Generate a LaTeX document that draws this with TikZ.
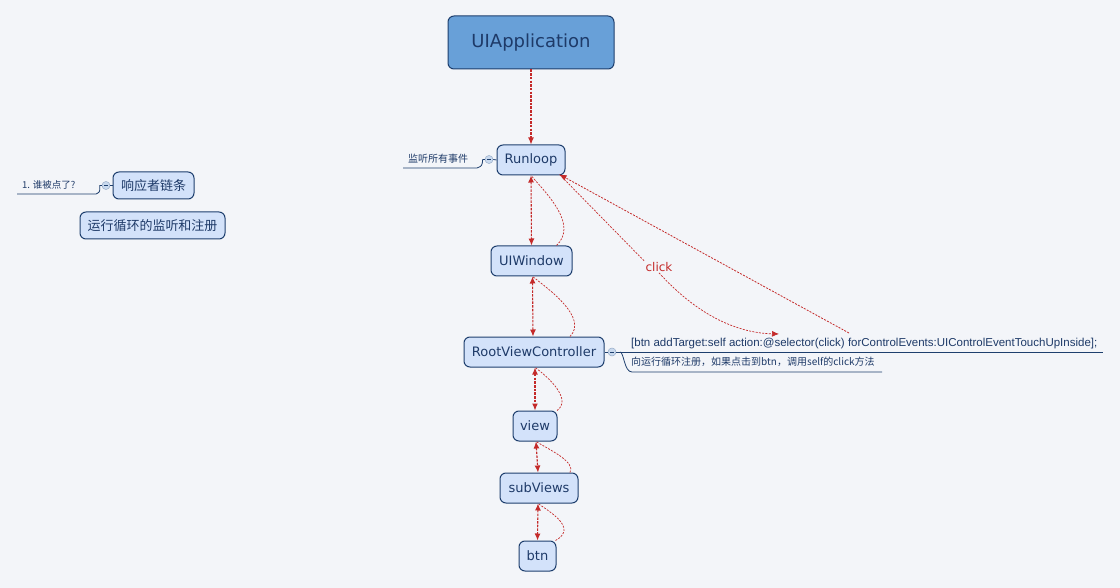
\documentclass[tikz,border=0pt]{standalone}
\usepackage{fontspec}
\setmainfont{DejaVu Sans}
\newfontfamily\cjk{Noto Sans CJK SC}
\newfontfamily\codefont{Liberation Sans}
\usetikzlibrary{arrows.meta}
\definecolor{bg}{HTML}{F3F5F9}
\definecolor{boxfill}{HTML}{D3E2FA}
\definecolor{boxline}{HTML}{1E3F6E}
\definecolor{txt}{HTML}{1E3A68}
\definecolor{appfill}{HTML}{68A0D8}
\definecolor{linkred}{HTML}{C42A2A}
\definecolor{knobfill}{HTML}{C9D9EE}
\tikzset{
  box/.style={draw=boxline, fill=boxfill, rounded corners=6pt, line width=1pt,
    text=txt, minimum height=30pt, inner xsep=6pt, font=\fontsize{13}{15}\selectfont},
  link/.style={draw=linkred, dash pattern=on 2.5pt off 1.2pt, line width=1.1pt},
  back/.style={draw=linkred, dash pattern=on 2pt off 1.3pt, line width=0.7pt},
  tip/.style={>={Latex[length=7pt,width=6pt]}},
  branch/.style={draw=boxline, line width=0.8pt},
  knob/.style={circle, draw=knobfill!70!boxline, fill=knobfill, line width=0.5pt,
    inner sep=0pt, minimum size=8pt},
  note/.style={text=txt, inner sep=0pt}
}
\begin{document}
\begin{tikzpicture}[x=1pt,y=-1pt]
  \fill[bg] (0,0) rectangle (1120,588);
  \useasboundingbox (0,0) rectangle (1120,588);

  % main chain
  \node[box, fill=appfill, minimum width=166pt, minimum height=53pt,
    font=\fontsize{18}{20}\selectfont] (app) at (531,42.5) {UIApplication};
  \node[box, minimum width=68pt] (run) at (531,160) {Runloop};
  \node[box, minimum width=81pt] (win) at (531.5,261) {UIWindow};
  \node[box, minimum width=140pt] (rvc) at (534,352) {RootViewController};
  \node[box, minimum width=44pt] (view) at (535,426) {view};
  \node[box, minimum width=78pt] (sub) at (539,488) {subViews};
  \node[box, minimum width=37pt] (btn) at (537.5,556) {btn};

  % left side
  \node[box, minimum width=81pt, minimum height=27pt, font=\cjk\fontsize{13}{15}\selectfont]
    (chain) at (153.5,185.5) {响应者链条};
  \node[box, minimum width=145pt, minimum height=27pt, font=\cjk\fontsize{13}{15}\selectfont]
    (loop) at (152.5,225.5) {运行循环的监听和注册};
  \node[knob] (k1) at (106,185.5) {};
  \node[note, font=\cjk\fontsize{9.5}{11}\selectfont, anchor=base west] (who) at (22,189) {1. 谁被点了?};
  \draw[branch] (k1.east) -- (chain.west);
  \draw[branch] (k1.west) -- ++(-2,0) .. controls (100,192) .. (96,194) -- (17,194);
  \draw[boxline, line width=0.6pt] ([xshift=-2pt]k1.center) -- ([xshift=2pt]k1.center);

  % runloop note
  \node[knob] (k2) at (489,159.5) {};
  \node[note, font=\cjk\fontsize{10}{12}\selectfont, anchor=base west] (all) at (408,163) {监听所有事件};
  \draw[branch] (k2.east) -- (run.west);
  \draw[branch] (k2.west) -- ++(-2,0) .. controls (482,166) .. (477,168) -- (403,168);
  \draw[boxline, line width=0.6pt] ([xshift=-2pt]k2.center) -- ([xshift=2pt]k2.center);

  % code note
  \node[knob] (k3) at (612,352) {};
  \node[note, font=\codefont\fontsize{11.5}{13}\selectfont, anchor=base west] (code) at (631,346)
    {[btn addTarget:self action:@selector(click) forControlEvents:UIControlEventTouchUpInside];};
  \node[note, font=\cjk\fontsize{10}{12}\selectfont, anchor=base west] (reg) at (631,365.5)
    {向运行循环注册，如果点击到btn，调用self的click方法};
  \draw[branch] (k3.west) -- (rvc.east);
  \draw[branch] (k3.east) -- (1103,352);
  \draw[branch] (620,352) .. controls (624,352) and (624,372) .. (632,372) -- (882,372);
  \draw[boxline, line width=0.6pt] ([xshift=-2pt]k3.center) -- ([xshift=2pt]k3.center);

  % links
  \draw[link, tip, ->] (app.south) -- (run.north);
  \draw[link, tip, <->] (run.south) -- (win.north);
  \draw[link, tip, <->] ([xshift=1pt]win.south) -- ([xshift=-1pt]rvc.north);
  \draw[link, tip, <->] ([xshift=1pt]rvc.south) -- (view.north);
  \draw[link, tip, <->] ([xshift=1pt]view.south) -- ([xshift=-1pt]sub.north);
  \draw[link, tip, <->] ([xshift=-1pt]sub.south) -- (btn.north);

  \draw[back] ([xshift=25pt]win.north) .. controls (578,225) and (548,195) .. (run.south);
  \draw[back] ([xshift=36pt]rvc.north) .. controls (588,318) and (550,290) .. ([xshift=1pt]win.south);
  \draw[back] ([xshift=22pt]view.north) .. controls (572,400) and (550,378) .. ([xshift=1pt]rvc.south);
  \draw[back] ([xshift=31pt]sub.north) .. controls (576,462) and (550,450) .. ([xshift=1pt]view.south);
  \draw[back] ([xshift=18pt]btn.north) .. controls (578,528) and (550,512) .. ([xshift=-1pt]sub.south);

  % click
  \node[text=linkred, font=\fontsize{12}{14}\selectfont, inner sep=1pt] (click) at (659,267) {click};
  \coordinate (sel) at (779,334);
  \coordinate (evt) at (849,333);
  \draw[back] ([xshift=-6pt,yshift=1pt]run.south east) -- (click.north west);
  \draw[back, tip, ->] (click.south) .. controls (700,318) and (740,333) .. (sel);
  \draw[back, line width=0.8pt, tip, ->] (evt) -- ([xshift=-6pt,yshift=1pt]run.south east);
\end{tikzpicture}
\end{document}
